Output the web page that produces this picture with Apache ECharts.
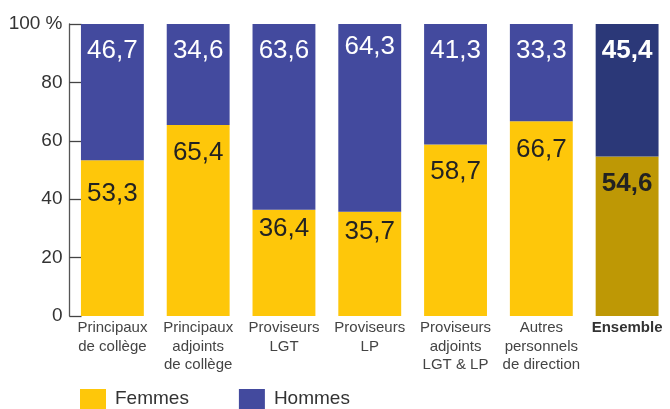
<!DOCTYPE html>
<html>
<head>
<meta charset="utf-8">
<script src="https://cdn.jsdelivr.net/npm/echarts@6/dist/echarts.min.js"></script>
<style>
  html, body { margin: 0; padding: 0; background: #fff; }
  #chart { width: 670px; height: 409px; }
</style>
</head>
<body>
<div id="chart"></div>
<script>
// données
var categories = [
  "Principaux\nde collège",
  "Principaux\nadjoints\nde collège",
  "Proviseurs\nLGT",
  "Proviseurs\nLP",
  "Proviseurs\nadjoints\nLGT & LP",
  "Autres\npersonnels\nde direction",
  "Ensemble"
];
var femmes = [53.3, 65.4, 36.4, 35.7, 58.7, 66.7, 54.6];
var hommes = [46.7, 34.6, 63.6, 64.3, 41.3, 33.3, 45.4];
var yTicks = [0, 20, 40, 60, 80, 100];

// réglages d'affichage (pas des données)
var femmesLabelDist = [20, 15, 6, 7, 14, 16, 14];
var hommesLabelDist = [14, 14, 14, 10, 14, 14, 14];
var FONT = "'Liberation Sans', Arial, sans-serif";

var chart = echarts.init(document.getElementById("chart"));

function fmt(v) {
  return String(v.toFixed(1)).replace(".", ",");
}

function buildData(values, dists, color, lastColor, textColor) {
  return values.map(function (v, i) {
    var last = i === values.length - 1;
    return {
      value: v,
      itemStyle: { color: last ? lastColor : color },
      label: {
        distance: dists[i],
        fontWeight: last ? "bold" : "normal",
        color: textColor
      }
    };
  });
}

var option = {
  animation: false,
  textStyle: { fontFamily: FONT },
  grid: { left: 69.5, top: 24, width: 602, height: 292 },
  legend: {
    left: 80,
    top: 389,
    padding: 0,
    itemWidth: 26,
    itemHeight: 20,
    itemGap: 50,
    icon: "rect",
    textStyle: { fontSize: 19, color: "#333", fontFamily: FONT, padding: [2, 0, 0, 4] },
    data: ["Femmes", "Hommes"]
  },
  xAxis: {
    type: "category",
    data: categories,
    axisLine: { show: false },
    axisTick: { show: false },
    axisLabel: {
      interval: 0,
      margin: 3,
      fontSize: 15,
      lineHeight: 18.5,
      color: "#444",
      fontFamily: FONT,
      verticalAlign: "top",
      formatter: function (v) {
        return v === "Ensemble" ? "{b|" + v + "}" : v;
      },
      rich: {
        b: { fontWeight: "bold", fontSize: 15, color: "#333", fontFamily: FONT }
      }
    }
  },
  yAxis: {
    type: "value",
    min: 0,
    max: 100,
    interval: 20,
    splitLine: { show: false },
    axisLine: { show: true, lineStyle: { color: "#555", width: 1.3 } },
    axisTick: { show: true, inside: true, length: 12, lineStyle: { color: "#444", width: 1.3 } },
    axisLabel: {
      fontSize: 19,
      color: "#333",
      margin: 7,
      fontFamily: FONT,
      formatter: function (v) {
        return v === 100 ? "100 %" : (yTicks.indexOf(v) >= 0 ? String(v) : "");
      }
    }
  },
  series: [
    {
      name: "Femmes",
      type: "bar",
      stack: "total",
      barCategoryGap: "26.7%",
      color: "#FEC70A",
      data: buildData(femmes, femmesLabelDist, "#FEC70A", "#BE9805", "#222"),
      label: {
        show: true,
        position: "insideTop",
        fontSize: 26,
        fontFamily: FONT,
        formatter: function (p) { return fmt(p.value); }
      }
    },
    {
      name: "Hommes",
      type: "bar",
      stack: "total",
      barCategoryGap: "26.7%",
      color: "#434A9E",
      data: buildData(hommes, hommesLabelDist, "#434A9E", "#2B3878", "#fff"),
      label: {
        show: true,
        position: "insideTop",
        fontSize: 26,
        fontFamily: FONT,
        formatter: function (p) { return fmt(p.value); }
      }
    }
  ]
};

chart.setOption(option);
</script>
</body>
</html>
